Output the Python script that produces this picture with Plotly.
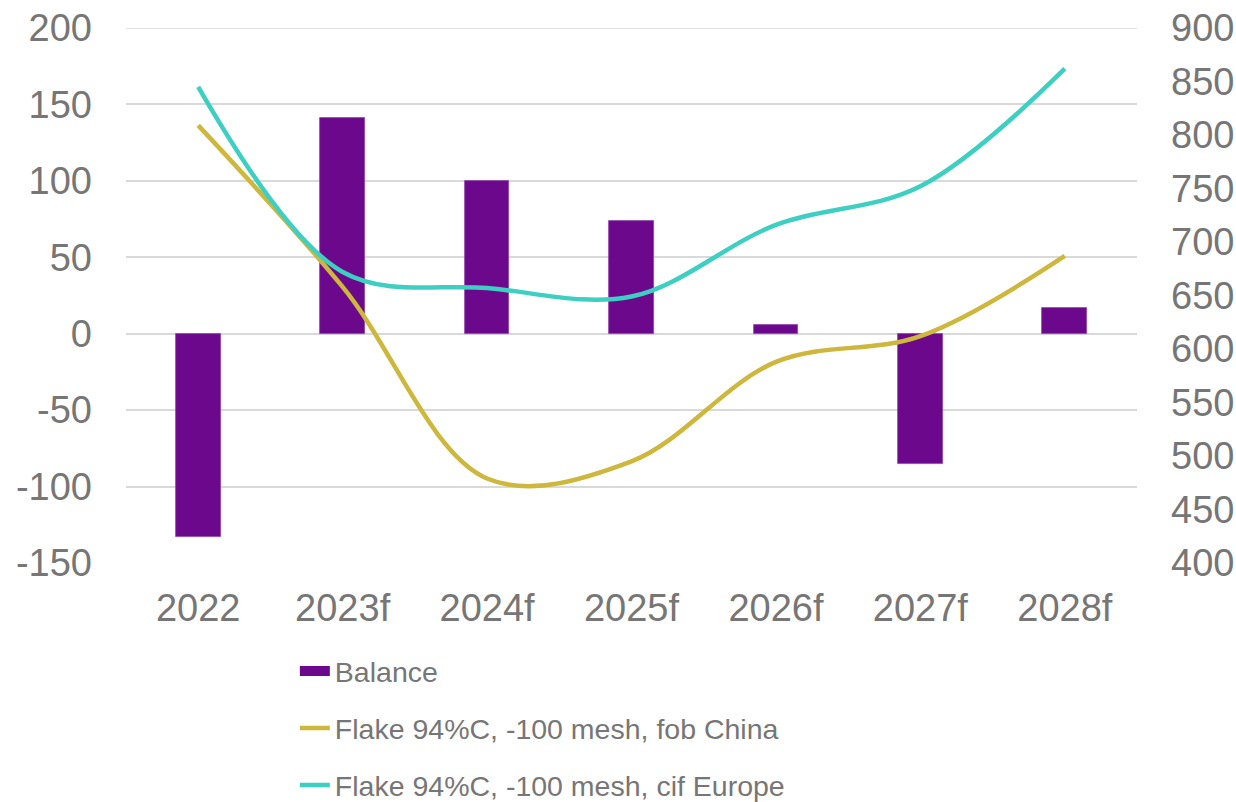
import plotly.graph_objects as go

categories = ["2022", "2023f", "2024f", "2025f", "2026f", "2027f", "2028f"]
balance = [-133, 141, 100, 74, 6, -85, 17]
fob_china = [809, 658, 479, 495, 588, 612, 687]
cif_europe = [845, 672, 657, 649, 716, 752, 862]

left_ticks = [-150, -100, -50, 0, 50, 100, 150, 200]
left_labels = ["-150", "-100", "-50", "0", "50", "100", "150", "200"]
right_ticks = [400, 450, 500, 550, 600, 650, 700, 750, 800, 850, 900]

TXT = "#767676"
GRID = "#D9D9D9"
PURPLE = "#6C088C"
FONT = "Liberation Sans, Arial, sans-serif"

fig = go.Figure()
fig.add_trace(go.Bar(
    x=categories, y=balance, name="Balance",
    marker=dict(color=PURPLE, line=dict(color="#8E45AA", width=0.8)),
    width=0.31, showlegend=False,
))
# legend entry for the bars, drawn as a wide swatch like the original
fig.add_trace(go.Scatter(
    x=[None], y=[None], name="Balance", mode="lines",
    line=dict(color=PURPLE, width=20), legendgroup="a",
))
fig.add_trace(go.Scatter(
    x=categories, y=fob_china, name="Flake 94%C, -100 mesh, fob China",
    mode="lines", line=dict(color="#CDB73C", width=4.5, shape="spline", smoothing=1.0),
    yaxis="y2", legendgroup="b",
))
fig.add_trace(go.Scatter(
    x=categories, y=cif_europe, name="Flake 94%C, -100 mesh, cif Europe",
    mode="lines", line=dict(color="#3ECFC3", width=4.5, shape="spline", smoothing=1.0),
    yaxis="y2", legendgroup="c",
))

fig.update_layout(
    width=1236, height=802,
    margin=dict(l=126, r=99, t=28, b=239, autoexpand=False),
    paper_bgcolor="white", plot_bgcolor="white",
    font=dict(family=FONT, color=TXT, size=38),
    bargap=0,
    xaxis=dict(
        type="category", showgrid=False, zeroline=False, showline=False,
        ticks="", tickfont=dict(size=38, color=TXT), ticklabelstandoff=19,
    ),
    yaxis=dict(
        range=[-150, 200], tickvals=left_ticks, ticktext=left_labels, showgrid=True,
        gridcolor=GRID, gridwidth=1.5, zeroline=False, showline=False,
        tickfont=dict(size=38, color=TXT), ticklabelstandoff=33,
    ),
    yaxis2=dict(
        range=[400, 900], tickvals=right_ticks, overlaying="y", side="right",
        showgrid=False, zeroline=False, showline=False,
        tickfont=dict(size=38, color=TXT), ticklabelstandoff=33,
    ),
    shapes=[dict(type="line", xref="paper", yref="y", x0=0, x1=1, y0=200, y1=200,
                 line=dict(color=GRID, width=1.5), layer="below")],
    showlegend=True,
    legend=dict(
        orientation="v", x=0.167, xanchor="left", y=-0.155, yanchor="top",
        font=dict(size=28.5, color=TXT), tracegroupgap=17,
        bgcolor="rgba(0,0,0,0)",
    ),
)

fig.write_html("out.html")
